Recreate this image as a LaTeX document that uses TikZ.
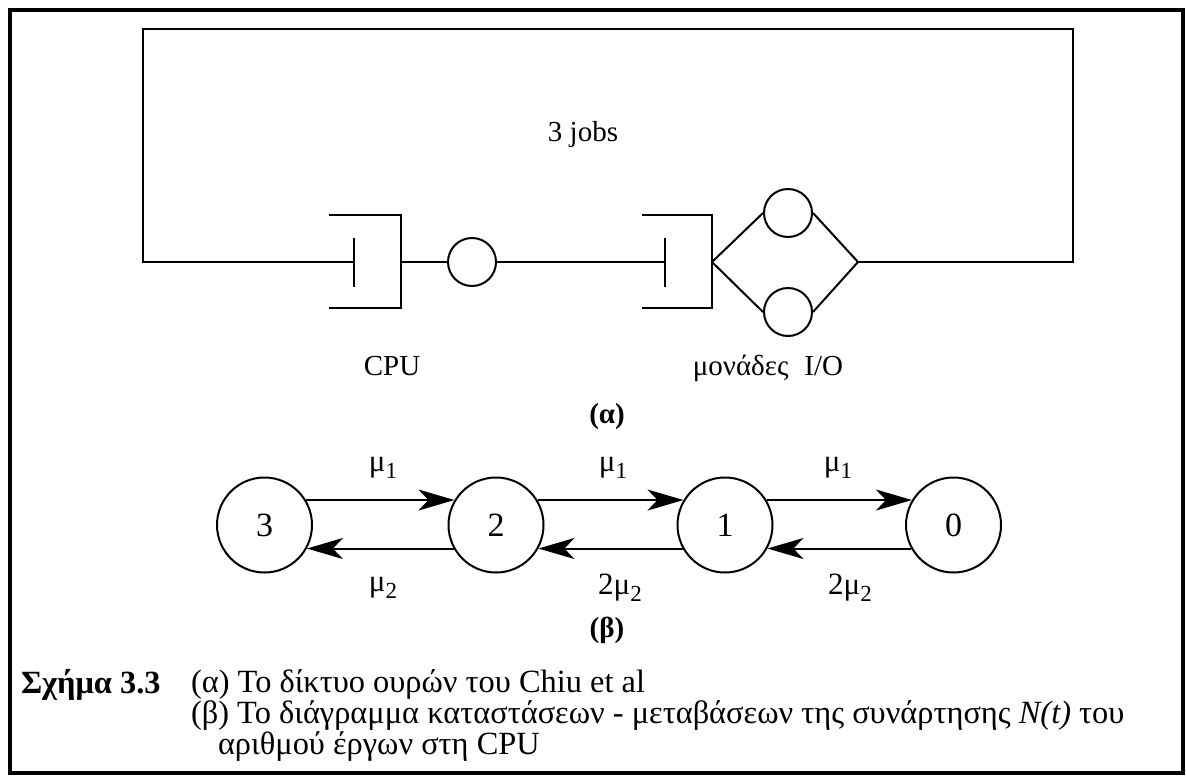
\documentclass[tikz,border=0pt]{standalone}
\usepackage{fontspec}
\setmainfont{Liberation Serif}
\usetikzlibrary{arrows.meta}
\newcommand\mysub[1]{\raisebox{-0.5ex}{\fontsize{11.5}{11.5}\selectfont #1}}
\begin{document}
\begin{tikzpicture}[x=0.5pt,y=-0.5pt, line width=1pt,
  lbl/.style={font=\fontsize{14.5}{17}\selectfont, inner sep=0},
  mlbl/.style={font=\fontsize{15.5}{18}\selectfont, inner sep=0},
  caplbl/.style={font=\fontsize{16.2}{18}\selectfont, inner sep=0},
  capbold/.style={font=\fontsize{16.2}{18}\selectfont\bfseries, inner sep=0},
  boldlbl/.style={font=\fontsize{14.5}{17}\selectfont\bfseries, inner sep=0},
  server/.style={circle, draw, minimum size=24pt, inner sep=0},
  state/.style={circle, draw, minimum size=47.5pt, inner sep=0, font=\fontsize{17}{20}\selectfont},
  arr/.style={-{Stealth[length=18pt,width=10.5pt,inset=5pt]}}]
\useasboundingbox (0,0) rectangle (1186,776);
% outer frame
\draw[line width=2pt] (10,9.5) rectangle (1183,773);

% (a) queueing network
% CPU queue
\draw (329,215) -- (401,215) -- (401,308) -- (329,308);
\draw (354,238) -- (354,287);
\coordinate (cpuTick) at (354,262);
\coordinate (cpuOut) at (401,262);
\node[server] (cpu) at (472,262) {};
% I/O queue
\draw (642,215) -- (712,215) -- (712,308) -- (642,308);
\draw (665,238) -- (665,287);
\coordinate (ioTick) at (665,262);
\coordinate (ioOut) at (712,262);
\node[server] (io1) at (788,213) {};
\begin{scope}
\clip (0,0) rectangle (1186,336);
\node[server] (io2) at (788,312) {};
\end{scope}
\coordinate (join) at (858,262);
\coordinate (loopR) at (1073,262);
\coordinate (loopRT) at (1073,29);
\coordinate (loopLT) at (143,29);
\coordinate (loopL) at (143,262);
\draw (join) -- (loopR) -- (loopRT) -- (loopLT) -- (loopL) -- (cpuTick);
\draw (cpuOut) -- (cpu.west);
\draw (cpu.east) -- (ioTick);
\draw (ioOut) -- (io1.west);
\draw (ioOut) -- (io2.west);
\draw (io1.east) -- (join);
\draw (io2.east) -- (join);

\node[lbl] (jobs) at (583,135) {3 jobs};
\node[lbl, anchor=base] (cpulbl) at (392,375) {CPU};
\node[lbl, anchor=base] (iolbl) at (768,375) {μονάδες\hspace{0.55em}I/O};
\node[boldlbl] (alab) at (607,417) {(α)};

% (b) state diagram
\node[state] (s3) at (264.5,525) {3};
\node[state] (s2) at (496,525) {2};
\node[state] (s1) at (725,525) {1};
\node[state] (s0) at (953.5,525) {0};
\draw[arr] (s3.31) -- (s2.149);
\draw[arr] (s2.31) -- (s1.149);
\draw[arr] (s1.31) -- (s0.149);
\draw[arr] (s2.209) -- (s3.-29);
\draw[arr] (s1.209) -- (s2.-29);
\draw[arr] (s0.209) -- (s1.-29);
\node[mlbl] (m32) at (383,468) {μ\mysub{1}};
\node[mlbl] (m21) at (613,468) {μ\mysub{1}};
\node[mlbl] (m10) at (838,468) {μ\mysub{1}};
\node[mlbl] (n23) at (383,588) {μ\mysub{2}};
\node[mlbl] (n12) at (620,588) {2μ\mysub{2}};
\node[mlbl] (n01) at (850,588) {2μ\mysub{2}};
\node[boldlbl] (blab) at (607,630) {(β)};

% caption
\node[capbold, anchor=west] (cap) at (20,685) {Σχήμα 3.3};
\node[caplbl, anchor=west] (cap1) at (190,685) {(α) Το δίκτυο ουρών του Chiu et al};
\node[caplbl, anchor=west] (cap2) at (190,716) {(β) Το διάγραμμα καταστάσεων - μεταβάσεων της συνάρτησης \textit{N(t)} του};
\node[caplbl, anchor=west] (cap3) at (217,747) {αριθμού έργων στη CPU};
\end{tikzpicture}
\end{document}
